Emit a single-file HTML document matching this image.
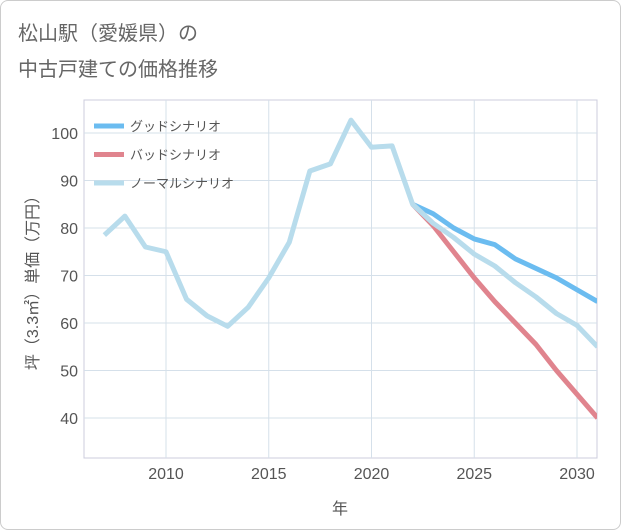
<!DOCTYPE html>
<html><head><meta charset="utf-8">
<style>
body{margin:0;background:#fff;}
#wrap{position:relative;width:619px;height:528px;border:1px solid #ccc;border-radius:8px;background:#fff;overflow:hidden;font-family:"Liberation Sans","Noto Sans CJK JP",sans-serif;}
</style></head><body>
<div id="wrap">
<svg id="chart" width="621" height="530" style="position:absolute;left:-1px;top:-1px"></svg>
</div>
<script>
const years=[2007,2008,2009,2010,2011,2012,2013,2014,2015,2016,2017,2018,2019,2020,2021,2022,2023,2024,2025,2026,2027,2028,2029,2030,2031];
const normalVals=[78.5,82.5,76,75,65,61.5,59.3,63.3,69.5,77,92,93.5,102.7,97,97.3,85,81,78,74.5,72,68.5,65.5,62,59.5,55];
const goodYears=[2022,2023,2024,2025,2026,2027,2028,2029,2030,2031];
const goodVals=[85,83,80,77.7,76.5,73.5,71.5,69.5,67,64.5];
const badVals=[85,80.5,75,69.5,64.5,60,55.5,50,45,40];
const xTicks=[2010,2015,2020,2025,2030];
const yTicks=[40,50,60,70,80,90,100];
const legendLabels=["グッドシナリオ","バッドシナリオ","ノーマルシナリオ"];
const colors=["#6bbcf0","#e0848e","#b8dcec"];

const NS="http://www.w3.org/2000/svg";
const svg=document.getElementById('chart');
const L=84,R=597,T=100,B=458;
const x=v=>166+(v-2010)*20.55;
const y=v=>418-(v-40)*4.75;
function mk(tag,attrs,parent){const e=document.createElementNS(NS,tag);for(const k in attrs)e.setAttribute(k,attrs[k]);(parent||svg).appendChild(e);return e;}

let t=mk('text',{x:18,y:40,'font-size':20,fill:'#666'});t.textContent='松山駅（愛媛県）の';


t=mk('text',{x:18,y:76,'font-size':20,fill:'#666'});t.textContent='中古戸建ての価格推移';



const plot=mk('rect',{x:L,y:T,width:R-L,height:B-T,fill:'#fff',stroke:'#ccd','stroke-width':1});



yTicks.forEach(v=>{
 const g=mk('line',{x1:L,x2:R,y1:y(v),y2:y(v),stroke:'#d5e0ea'});
 
 
 const l=mk('text',{x:L-6,y:y(v)+6,'text-anchor':'end','font-size':16,fill:'#555'});l.textContent=v;
 
 
});
xTicks.forEach(v=>{
 const g=mk('line',{x1:x(v),x2:x(v),y1:T,y2:B,stroke:'#d5e0ea'});
 
 
 const l=mk('text',{x:x(v),y:479,'text-anchor':'middle','font-size':16,fill:'#555'});l.textContent=v;
 
 
});
t=mk('text',{x:340,y:514,'text-anchor':'middle','font-size':16,fill:'#555'});t.textContent='年';


t=mk('text',{x:0,y:0,'text-anchor':'middle','font-size':16,fill:'#555',transform:'translate(38,279) rotate(-90)'});t.textContent='坪（3.3㎡）単価（万円）';



const clip=mk('clipPath',{id:'pc'});mk('rect',{x:L,y:T,width:R-L,height:B-T},clip);
function line(xs,vs,c,name){
 const p=mk('polyline',{points:xs.map((yr,i)=>x(yr)+','+y(vs[i])).join(' '),fill:'none',stroke:c,'stroke-width':5,'stroke-linejoin':'round','clip-path':'url(#pc)'});
 
 
}
line(goodYears,goodVals,colors[0],'good-scenario-line');
line(goodYears,badVals,colors[1],'bad-scenario-line');
line(years,normalVals,colors[2],'normal-scenario-line');

legendLabels.forEach((lab,i)=>{
 const ly=126+i*28.5;
 const s=mk('line',{x1:94,x2:124,y1:ly,y2:ly,stroke:colors[i],'stroke-width':5});
 
 
 const tx=mk('text',{x:130,y:ly+5,'font-size':13,fill:'#555'});tx.textContent=lab;
 
 
});
</script>
</body></html>
